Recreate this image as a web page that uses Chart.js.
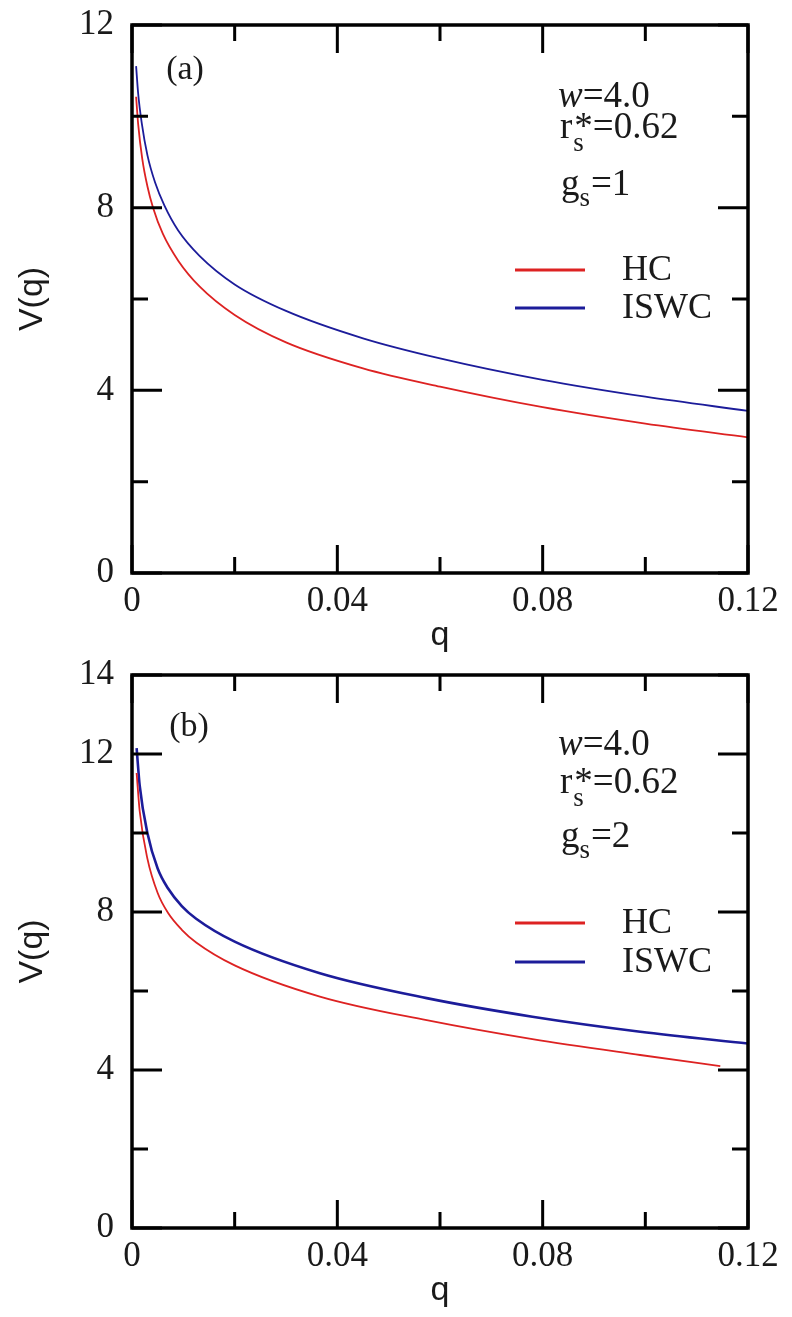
<!DOCTYPE html>
<html>
<head>
<meta charset="utf-8">
<script src="https://cdn.jsdelivr.net/npm/chart.js@4.4.1/dist/chart.umd.min.js"></script>
<style>
  body { margin: 0; background: #fff; width: 792px; height: 1317px; position: relative; overflow: hidden; }
  .panel { position: absolute; left: 0; width: 792px; }
</style>
</head>
<body>
<div class="panel" style="top:-15px;height:675px"><canvas id="chartA"></canvas></div>
<div class="panel" style="top:635px;height:682px"><canvas id="chartB"></canvas></div>
<script>
// values
const seriesNames = ['HC', 'ISWC'];
const xTickLabels = ['0', '0.04', '0.08', '0.12'];

// panel (a), g_s = 1
const qHC_a = [0.0008, 0.0012, 0.002, 0.003, 0.0041, 0.006, 0.009, 0.0132, 0.02, 0.03, 0.045, 0.06, 0.08, 0.1, 0.12];
const vHC_a = [10.43, 9.83, 9.07, 8.47, 8.0, 7.43, 6.84, 6.27, 5.65, 5.05, 4.48, 4.08, 3.63, 3.27, 2.97];
const qISWC_a = [0.0008, 0.0012, 0.0019, 0.003, 0.0045, 0.0063, 0.009, 0.0132, 0.02, 0.03, 0.045, 0.06, 0.08, 0.1, 0.12];
const vISWC_a = [11.1, 10.5, 9.85, 9.15, 8.55, 8.05, 7.5, 6.94, 6.32, 5.74, 5.14, 4.7, 4.23, 3.86, 3.55];
const yTickLabels_a = ['0', '4', '8', '12'];
const params_a = ['4.0', '0.62', '1'];   // w, rs*, gs

// panel (b), g_s = 2
const qHC_b = [0.0009, 0.0015, 0.003, 0.005, 0.007, 0.0097, 0.0125, 0.02, 0.0366, 0.0574, 0.078, 0.099, 0.1146];
const vHC_b = [11.52, 10.55, 9.35, 8.48, 7.98, 7.55, 7.23, 6.65, 5.86, 5.26, 4.78, 4.38, 4.1];
const qISWC_b = [0.0009, 0.0015, 0.003, 0.005, 0.007, 0.0097, 0.0125, 0.02, 0.0366, 0.0574, 0.078, 0.099, 0.12];
const vISWC_b = [12.15, 11.2, 10.0, 9.1, 8.6, 8.15, 7.83, 7.25, 6.45, 5.82, 5.35, 4.97, 4.67];
const yTickLabels_b = ['0', '4', '8', '12', '14'];
const params_b = ['4.0', '0.62', '2'];

const RED = '#dd2222';
const BLUE = '#1c1c9a';
const SERIF = '"Liberation Serif", "Times New Roman", serif';
const SANS = '"Liberation Sans", Arial, sans-serif';
const INK = '#1a1a1a';

function toPoints(qs, vs) {
    return qs.map((q, i) => ({ x: q, y: vs[i] }));
}

// inward ticks on all four sides + frame
const frameTicks = {
    id: 'frameTicks',
    afterDraw(chart) {
        const { ctx, chartArea: a, scales: { x, y } } = chart;
        ctx.save();
        ctx.strokeStyle = '#000';
        ctx.lineWidth = 3;
        ctx.beginPath();
        x.ticks.forEach(t => {
            const px = x.getPixelForValue(t.value);
            const len = t.label ? 28 : 16;
            ctx.moveTo(px, a.bottom); ctx.lineTo(px, a.bottom - len);
            ctx.moveTo(px, a.top); ctx.lineTo(px, a.top + len);
        });
        y.ticks.forEach(t => {
            const py = y.getPixelForValue(t.value);
            const len = t.label ? 30 : 16;
            ctx.moveTo(a.left, py); ctx.lineTo(a.left + len, py);
            ctx.moveTo(a.right, py); ctx.lineTo(a.right - len, py);
        });
        ctx.stroke();
        ctx.lineWidth = 3.5;
        ctx.strokeRect(a.left, a.top, a.right - a.left, a.bottom - a.top);
        ctx.restore();
    }
};

// panel letter, parameters and legend inside the plot
const notes = {
    id: 'notes',
    afterDraw(chart, args, o) {
        const ctx = chart.ctx;
        ctx.save();
        ctx.fillStyle = INK;

        ctx.font = '34px ' + SERIF;
        ctx.textBaseline = 'middle';
        ctx.textAlign = 'center';
        ctx.fillText(o.letter, o.letterX, o.letterY);

        ctx.textAlign = 'left';
        ctx.textBaseline = 'alphabetic';
        const x0 = o.px;
        // w=...
        ctx.font = 'italic 37px ' + SERIF;
        ctx.fillText('w', x0, o.yW);
        let w = ctx.measureText('w').width;
        ctx.font = '37px ' + SERIF;
        ctx.fillText('=' + o.params[0], x0 + w, o.yW);
        // r_s*=...
        ctx.fillText('r', x0 + 2, o.yR);
        w = ctx.measureText('r').width + 3;
        ctx.font = '27px ' + SERIF;
        ctx.fillText('s', x0 + w, o.yR + 13);
        const sw = ctx.measureText('s').width;
        ctx.font = '37px ' + SERIF;
        ctx.fillText('*', x0 + w + 1, o.yR);
        const stw = ctx.measureText('*').width;
        ctx.fillText('=' + o.params[1], x0 + w + Math.max(sw, stw) + 1, o.yR);
        // g_s=...
        ctx.fillText('g', x0 + 3, o.yG);
        w = ctx.measureText('g').width + 3;
        ctx.font = '27px ' + SERIF;
        ctx.fillText('s', x0 + w, o.yG + 11);
        const gw = ctx.measureText('s').width;
        ctx.font = '37px ' + SERIF;
        ctx.fillText('=' + o.params[2], x0 + w + gw + 1, o.yG);

        // legend
        ctx.textBaseline = 'middle';
        chart.data.datasets.forEach((ds, i) => {
            const ly = o.legendY[i];
            ctx.strokeStyle = ds.borderColor;
            ctx.lineWidth = 3;
            ctx.beginPath();
            ctx.moveTo(515, ly); ctx.lineTo(585, ly);
            ctx.stroke();
            ctx.fillStyle = INK;
            ctx.font = '36px ' + SERIF;
            ctx.fillText(ds.label, 622, ly + 1);
        });
        ctx.restore();
    }
};

function makeChart(id, d) {
    const ctx = document.getElementById(id).getContext('2d');
    return new Chart(ctx, {
        type: 'line',
        data: {
            datasets: [
                {
                    label: seriesNames[0],
                    data: toPoints(d.qHC, d.vHC),
                    borderColor: RED,
                    borderWidth: d.lw[0],
                    pointRadius: 0,
                    cubicInterpolationMode: 'monotone'
                },
                {
                    label: seriesNames[1],
                    data: toPoints(d.qISWC, d.vISWC),
                    borderColor: BLUE,
                    borderWidth: d.lw[1],
                    pointRadius: 0,
                    cubicInterpolationMode: 'monotone'
                }
            ]
        },
        options: {
            responsive: true,
            maintainAspectRatio: false,
            animation: false,
            layout: { padding: { left: 0, right: 44, top: 40, bottom: 0 } },
            plugins: {
                legend: { display: false },
                tooltip: { enabled: false },
                notes: d.notes
            },
            scales: {
                x: {
                    type: 'linear',
                    min: 0,
                    max: 0.12,
                    afterFit: (s) => { s.height = d.xAxisH; },
                    grid: { display: false, drawTicks: false },
                    border: { display: false },
                    ticks: {
                        stepSize: 0.02,
                        padding: 8,
                        color: INK,
                        maxRotation: 0,
                        autoSkip: false,
                        font: { family: SERIF, size: 35 },
                        callback: (v) => {
                            const s = String(Math.round(v * 100) / 100);
                            return xTickLabels.includes(s) ? s : '';
                        }
                    },
                    title: {
                        display: true,
                        text: 'q',
                        color: INK,
                        font: { family: SANS, size: 34 },
                        padding: { top: 0, bottom: d.qPad }
                    }
                },
                y: {
                    min: 0,
                    max: d.yMax,
                    afterFit: (s) => { s.width = 132; },
                    grid: { display: false, drawTicks: false },
                    border: { display: false },
                    ticks: {
                        stepSize: 2,
                        padding: 18,
                        color: INK,
                        autoSkip: false,
                        font: { family: SERIF, size: 35 },
                        callback: (v) => {
                            const s = String(Math.round(v));
                            return d.yLabels.includes(s) ? s : '';
                        }
                    },
                    title: {
                        display: true,
                        text: 'V(q)',
                        color: INK,
                        font: { family: SANS, size: 34 },
                        padding: { top: 12, bottom: 0 }
                    }
                }
            }
        },
        plugins: [frameTicks, notes]
    });
}

makeChart('chartA', {
    qHC: qHC_a, vHC: vHC_a, qISWC: qISWC_a, vISWC: vISWC_a,
    lw: [1.8, 1.8],
    yMax: 12, yLabels: yTickLabels_a,
    xAxisH: 87, qPad: 4,
    notes: {
        letter: '(a)', letterX: 185, letterY: 85,
        px: 558, yW: 122, yR: 153, yG: 210,
        params: params_a,
        legendY: [285, 323]
    }
});

makeChart('chartB', {
    qHC: qHC_b, vHC: vHC_b, qISWC: qISWC_b, vISWC: vISWC_b,
    lw: [1.8, 2.6],
    yMax: 14, yLabels: yTickLabels_b,
    xAxisH: 89, qPad: 6,
    notes: {
        letter: '(b)', letterX: 189, letterY: 92,
        px: 558, yW: 120, yR: 158, yG: 212,
        params: params_b,
        legendY: [288, 327]
    }
});
</script>
</body>
</html>
